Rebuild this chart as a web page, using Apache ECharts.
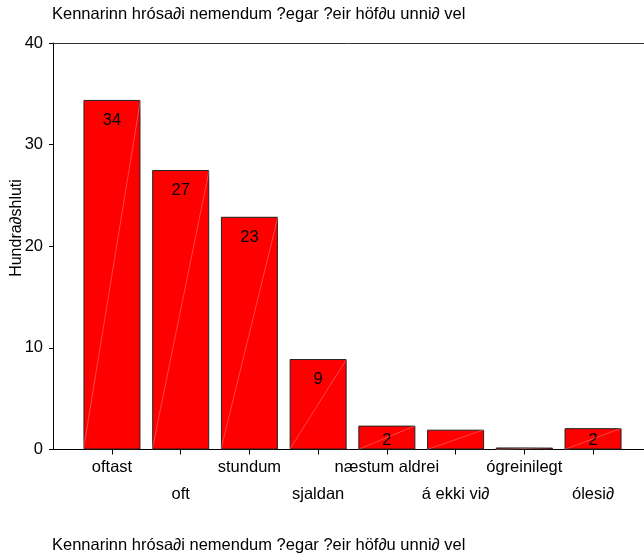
<!DOCTYPE html>
<html>
<head>
<meta charset="utf-8">
<script src="https://cdn.jsdelivr.net/npm/echarts@6/dist/echarts.min.js"></script>
<style>
  html, body { margin: 0; padding: 0; background: #fff; }
  #chart { width: 644px; height: 554px; }
</style>
</head>
<body>
<div id="chart"></div>
<script>
var titleText = 'Kennarinn hrósa\u2202i nemendum ?egar ?eir höf\u2202u unni\u2202 vel'
var yName = 'Hundra\u2202shluti'
var categories = ['oftast', 'oft', 'stundum', 'sjaldan', 'næstum aldrei', 'á ekki vi\u2202', 'ógreinilegt', 'ólesi\u2202']
var values = [34.4, 27.5, 22.9, 8.9, 2.35, 1.95, 0.2, 2.1]
var barLabels = ['34', '27', '23', '9', '2', '', '', '2']
var yTicks = [0, 10, 20, 30, 40]

var font = 'Liberation Sans, Arial, sans-serif'
var chart = echarts.init(document.getElementById('chart'))

var barData = values.map(function (v, i) {
  var small = v < 5
  return {
    value: v,
    label: {
      show: barLabels[i] !== '',
      formatter: barLabels[i],
      position: small ? 'insideBottom' : 'insideTop',
      distance: small ? 1 : 12
    }
  }
})

var option = {
  animation: false,
  title: [
    { text: titleText, left: 47, top: 1, textStyle: { fontSize: 16.5, fontWeight: 'normal', color: '#000', fontFamily: font } },
    { text: titleText, left: 47, top: 532, textStyle: { fontSize: 16.5, fontWeight: 'normal', color: '#000', fontFamily: font } }
  ],
  graphic: [{
    type: 'text',
    x: 17,
    y: 228,
    rotation: Math.PI / 2,
    style: { text: yName, fontSize: 16, fontFamily: font, fill: '#000', align: 'center', verticalAlign: 'middle' }
  }],
  grid: [
    { left: 53, right: 0, top: 43, bottom: 104.5 },
    { left: 77.6, right: 16.6, top: 43, bottom: 104.5 }
  ],
  xAxis: [
    { gridIndex: 0, type: 'value', min: 0, max: 1, position: 'bottom',
      axisLine: { show: true, lineStyle: { color: '#000', width: 1 } },
      axisTick: { show: false }, axisLabel: { show: false }, splitLine: { show: false } },
    { gridIndex: 0, type: 'value', min: 0, max: 1, position: 'top',
      axisLine: { show: true, lineStyle: { color: '#333', width: 1 } },
      axisTick: { show: false }, axisLabel: { show: false }, splitLine: { show: false } },
    { gridIndex: 1, type: 'category', data: categories,
      axisLine: { show: false },
      axisTick: { show: true, alignWithLabel: true, length: 5, lineStyle: { color: '#000' } },
      axisLabel: {
        interval: 0, margin: 4, color: '#000', fontSize: 16.5, fontFamily: font, lineHeight: 27,
        formatter: function (v, i) { return i % 2 === 1 ? '\n' + v : v }
      } }
  ],
  yAxis: [
    { gridIndex: 0, type: 'value', min: 0, max: 40, interval: 10,
      axisLine: { show: true, lineStyle: { color: '#000', width: 1 } },
      axisTick: { show: true, length: 4, lineStyle: { color: '#000' } },
      axisLabel: { margin: 10, color: '#000', fontSize: 16.5, fontFamily: font,
        formatter: function (v) { return yTicks.indexOf(v) >= 0 ? String(v) : '' } },
      splitLine: { show: false } },
    { gridIndex: 1, type: 'value', min: 0, max: 40, show: false, splitLine: { show: false } }
  ],
  series: [
    {
      type: 'bar',
      xAxisIndex: 2,
      yAxisIndex: 1,
      barWidth: 57,
      data: barData,
      itemStyle: { color: '#ff0000', borderColor: '#222', borderWidth: 1 },
      label: { color: '#000', fontSize: 16.5, fontFamily: font },
      z: 2
    },
    {
      // faint diagonal streak across every bar
      type: 'custom',
      xAxisIndex: 2,
      yAxisIndex: 1,
      z: 3,
      silent: true,
      data: values.map(function (v, i) { return [i, v] }),
      renderItem: function (params, api) {
        var base = api.coord([api.value(0), 0])
        var top = api.coord([api.value(0), api.value(1)])
        var half = 28.5
        return {
          type: 'line',
          shape: { x1: base[0] - half, y1: base[1], x2: top[0] + half, y2: top[1] },
          style: { stroke: 'rgba(255,255,255,0.45)', lineWidth: 0.6 }
        }
      }
    }
  ]
}
chart.setOption(option)
</script>
</body>
</html>
